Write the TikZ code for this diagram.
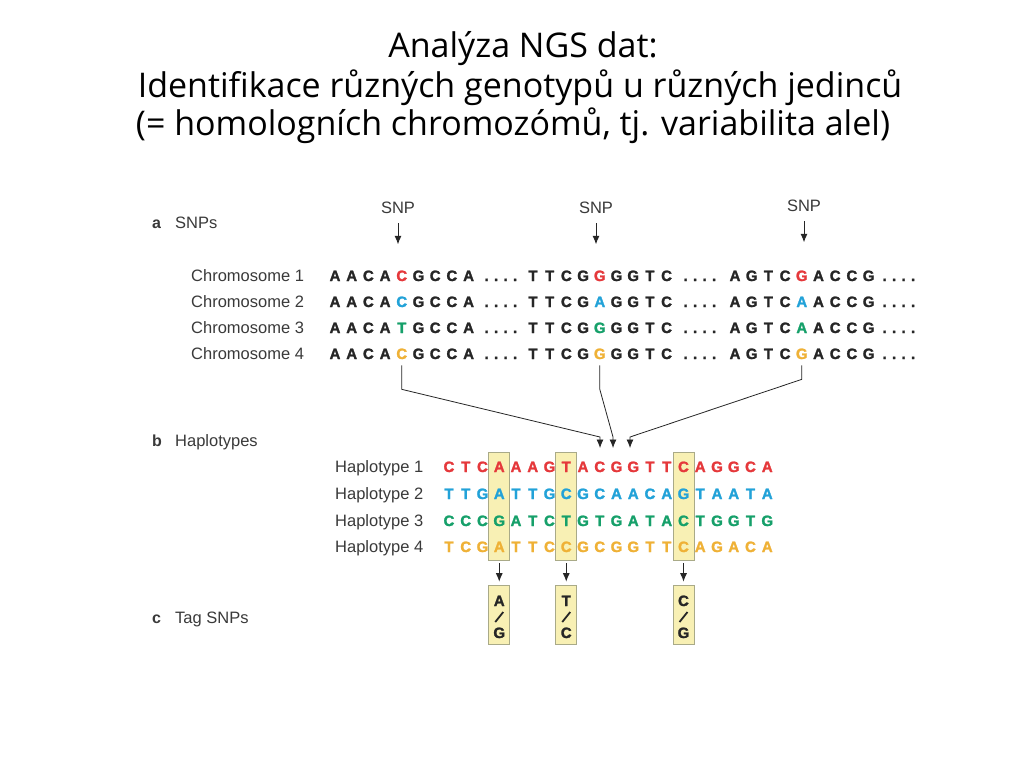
\documentclass[tikz,border=0pt]{standalone}
\usepackage{fontspec}
\setmainfont{Liberation Sans}
\newfontfamily\titlefont{Open Sans}
\newfontfamily\heavyfont[FakeBold=1.6]{Liberation Sans}
\usetikzlibrary{arrows.meta}
\definecolor{dk}{HTML}{262626}
\definecolor{lg}{HTML}{3A3A3A}
\definecolor{snpred}{HTML}{E5383B}
\definecolor{snpblue}{HTML}{22A2D8}
\definecolor{snpgreen}{HTML}{16A06A}
\definecolor{snporange}{HTML}{EFB136}
\definecolor{boxfill}{HTML}{F8F0B4}
\definecolor{boxline}{HTML}{A9AA88}
\begin{document}
\begin{tikzpicture}[x=1pt,y=-1pt,
  ttl/.style={inner sep=0pt,anchor=base,font=\titlefont\fontsize{34}{36}\selectfont,text=black},
  lbl/.style={inner sep=0pt,anchor=base west,font=\fontsize{16.5}{18}\selectfont,text=lg},
  sec/.style={inner sep=0pt,anchor=base west,font=\fontsize{16}{18}\bfseries\selectfont,text=lg},
  nt/.style={inner sep=0pt,anchor=base,font=\heavyfont\bfseries\fontsize{15}{16}\selectfont,text=dk},
  arr/.style={-{Latex[length=8.5pt,width=7pt]},line width=1pt,draw=dk},
  conn/.style={-{Latex[length=8.5pt,width=7pt]},line width=0.8pt,draw=dk},
  hbox/.style={draw=boxline,fill=boxfill,line width=0.6pt,minimum width=21pt,inner sep=0pt}]
\useasboundingbox[fill=white] (0,0) rectangle (1024,768);

% title
\node[ttl] (ti1) at (523,58) {Analýza NGS dat:};
\node[ttl] (ti2) at (520,97) {Identifikace různých genotypů u různých jedinců};
\node[ttl] (ti3) at (513,135) {(= homologních chromozómů, tj. variabilita alel)};

% section labels
\node[sec] (sa) at (152,228) {a};
\node[lbl] (sat) at (175,228) {SNPs};
\node[sec] (sb) at (152,446) {b};
\node[lbl] (sbt) at (175,446) {Haplotypes};
\node[sec] (sc) at (152,623) {c};
\node[lbl] (sct) at (175,623) {Tag SNPs};

% SNP labels and arrows
\node[lbl,anchor=base] (snp1) at (398,213) {SNP};
\node[lbl,anchor=base] (snp2) at (596,213) {SNP};
\node[lbl,anchor=base] (snp3) at (804,211) {SNP};
\draw[arr] (snp1.south) ++(0,10) -- ++(0,21);
\draw[arr] (snp2.south) ++(0,10) -- ++(0,21);
\draw[arr] (snp3.south) ++(0,10) -- ++(0,21);

% chromosome rows
\foreach \r/\yy/\cl/\sa/\sb/\sc in {1/281/snpred/C/G/G,2/307/snpblue/C/A/A,3/333/snpgreen/T/G/A,4/359/snporange/C/G/G}{
  \node[lbl] (chr\r) at (191,\yy) {Chromosome \r};
  \foreach \c [count=\i from 0] in {A,A,C,A,X,G,C,C,A}{
    \node[nt] (c\r-a\i) at (335+16.7*\i,\yy) {\ifnum\i=4 \color{\cl}\sa\else\c\fi};
  }
  \foreach \c [count=\i from 0] in {T,T,C,G,X,G,G,T,C}{
    \node[nt] (c\r-b\i) at (533+16.7*\i,\yy) {\ifnum\i=4 \color{\cl}\sb\else\c\fi};
  }
  \foreach \c [count=\i from 0] in {A,G,T,C,X,A,C,C,G}{
    \node[nt] (c\r-c\i) at (735+16.7*\i,\yy) {\ifnum\i=4 \color{\cl}\sc\else\c\fi};
  }
  \foreach \j in {0,...,3}{
    \node[nt] (c\r-ad\j) at (335+16.7*8+18+9.5*\j,\yy) {.};
    \node[nt] (c\r-bd\j) at (533+16.7*8+19+9.5*\j,\yy) {.};
    \node[nt] (c\r-cd\j) at (735+16.7*8+16+9.5*\j,\yy) {.};
  }
}

% connectors to haplotypes
\coordinate (m1) at (600,437);
\coordinate (m2) at (613,437);
\coordinate (m3) at (630,437);
\draw[conn] (c4-a4.south) ++(0,6) -- ++(0,24) -- (m1) -- ++(0,11);
\draw[conn] (c4-b4.south) ++(0,6) -- ++(0,24) -- (m2) -- ++(0,11);
\draw[conn] (c4-c4.south) ++(0,6) -- ++(0,14) -- (m3) -- ++(0,11);

% highlight columns
\node[hbox,minimum height=108pt] (hb1) at (499.25,506) {};
\node[hbox,minimum height=108pt] (hb2) at (566.25,506) {};
\node[hbox,minimum height=108pt] (hb3) at (683.5,506) {};

% haplotype rows
\foreach \r/\yy/\cl/\sq in {
  1/472/snpred/{C,T,C,A,A,A,G,T,A,C,G,G,T,T,C,A,G,G,C,A},
  2/499/snpblue/{T,T,G,A,T,T,G,C,G,C,A,A,C,A,G,T,A,A,T,A},
  3/526/snpgreen/{C,C,C,G,A,T,C,T,G,T,G,A,T,A,C,T,G,G,T,G},
  4/552/snporange/{T,C,G,A,T,T,C,C,G,C,G,G,T,T,C,A,G,A,C,A}}{
  \node[lbl] (hap\r) at (335,\yy+0.5) {Haplotype \r};
  \foreach \c [count=\i from 0] in \sq{
    \node[nt,text=\cl] (h\r-\i) at (449+16.75*\i,\yy) {\c};
  }
}

% tag SNP boxes
\node[hbox,minimum height=59pt] (tg1) at (499.25,614.5) {};
\node[hbox,minimum height=59pt] (tg2) at (566.25,614.5) {};
\node[hbox,minimum height=59pt] (tg3) at (683.5,614.5) {};
\draw[arr] (hb1.south) ++(0,3) -- ([yshift=3pt]tg1.north);
\draw[arr] (hb2.south) ++(0,3) -- ([yshift=3pt]tg2.north);
\draw[arr] (hb3.south) ++(0,3) -- ([yshift=3pt]tg3.north);
\foreach \k/\xx/\ta/\tb in {1/499.25/A/G,2/566.25/T/C,3/683.5/C/G}{
  \node[nt] (tga\k) at (\xx,606) {\ta};
  \node[nt] (tgb\k) at (\xx,638) {\tb};
  \draw[dk,line width=1.8pt] (\xx-4,622) -- (\xx+4,612);
}
\end{tikzpicture}
\end{document}
